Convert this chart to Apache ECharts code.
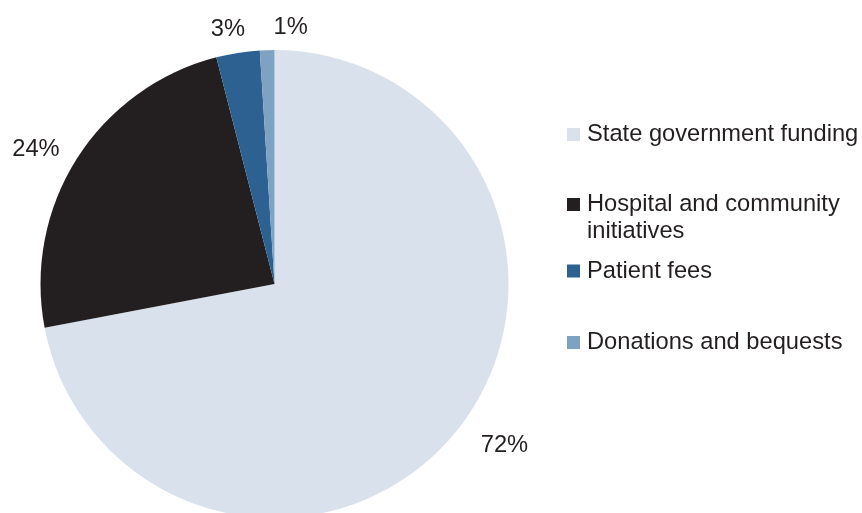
<!DOCTYPE html>
<html>
<head>
<meta charset="utf-8">
<script src="https://cdn.jsdelivr.net/npm/echarts@6/dist/echarts.min.js"></script>
<style>
  html, body { margin: 0; padding: 0; background: #ffffff; }
  #chart { width: 862px; height: 513px; }
</style>
</head>
<body>
<div id="chart"></div>
<script>
// Funding sources, share of total (%)
const categories = [
  'State government funding',
  'Hospital and community initiatives',
  'Patient fees',
  'Donations and bequests'
];
const shares = [72, 24, 3, 1];
// Legend wording; the long entry wraps, a leading blank line keeps
// the swatch level with its first line
const legendText = [
  'State government funding',
  '\nHospital and community\ninitiatives',
  'Patient fees',
  'Donations and bequests'
];

// Styling
const sliceColors = ['#d9e2ec', '#231f20', '#2c6191', '#7ea2c1'];
const textColor = '#231f20';
const fontFamily = '"Liberation Sans", Arial, sans-serif';
const fontSize = 23.7;
const pieCenter = [274.5, 284];
const pieRadius = 234;
// nudges for the percentage labels around the ring
const labelNudge = [[15, -16], [-3, 15], [-3, 21], [25, 22]];
// legend rows: top edge of each row
const legendTops = [121, 164, 257.5, 329];

const pieData = categories.map((name, i) => ({
  name,
  value: shares[i],
  itemStyle: { color: sliceColors[i] }
}));

const labelData = categories.map((name, i) => ({
  name,
  value: shares[i],
  label: { offset: labelNudge[i] }
}));

const legends = categories.map((name, i) => ({
  data: [name],
  orient: 'vertical',
  left: 567,
  top: legendTops[i],
  padding: 0,
  itemWidth: 13,
  itemHeight: 13,
  icon: 'rect',
  selectedMode: false,
  formatter: () => legendText[i],
  textStyle: {
    color: textColor,
    fontFamily,
    fontSize,
    lineHeight: 27,
    padding: [0, 0, 0, 2]
  }
}));

const chart = echarts.init(document.getElementById('chart'), null, { renderer: 'canvas' });
chart.setOption({
  backgroundColor: '#ffffff',
  animation: false,
  legend: legends,
  series: [
    {
      type: 'pie',
      center: pieCenter,
      radius: pieRadius,
      startAngle: 90,
      clockwise: true,
      silent: true,
      label: { show: false },
      labelLine: { show: false },
      itemStyle: { borderWidth: 0 },
      emphasis: { disabled: true },
      data: pieData
    },
    {
      // transparent ring carrying the percentage labels
      type: 'pie',
      center: pieCenter,
      radius: [pieRadius, 318],
      startAngle: 90,
      clockwise: true,
      silent: true,
      itemStyle: { color: 'rgba(0,0,0,0)', borderWidth: 0 },
      emphasis: { disabled: true },
      labelLine: { show: false },
      label: {
        show: true,
        position: 'inside',
        formatter: p => p.value + '%',
        color: textColor,
        fontFamily,
        fontSize
      },
      data: labelData
    }
  ]
});
</script>
</body>
</html>
